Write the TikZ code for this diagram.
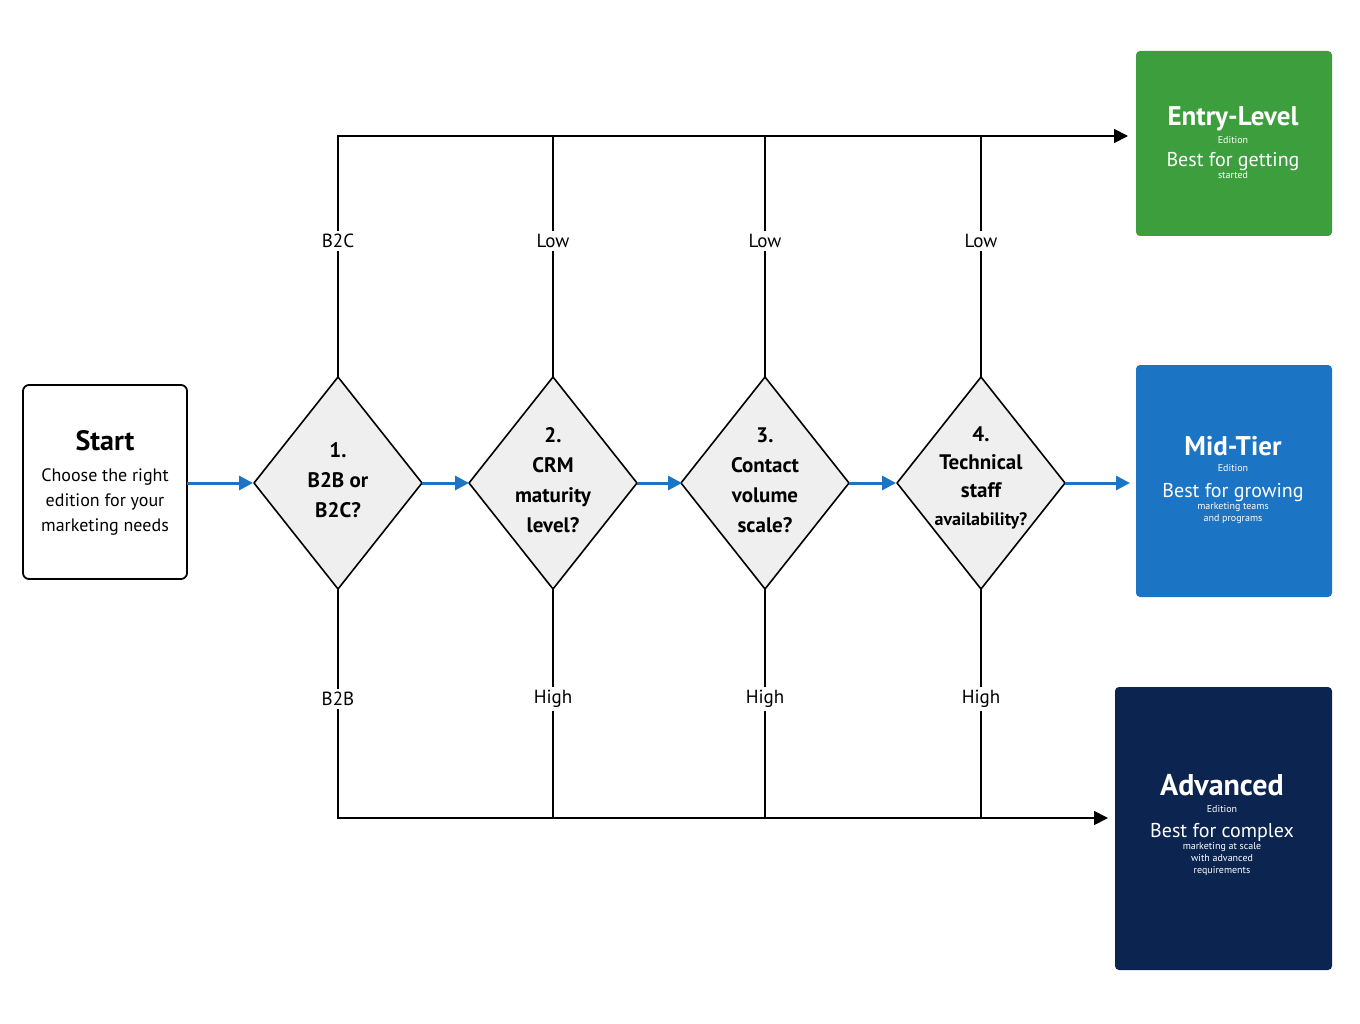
\documentclass[tikz,border=0pt]{standalone}
\usepackage{fontspec}
\setmainfont{PT Sans}
\usetikzlibrary{arrows.meta}
\definecolor{dgreen}{HTML}{3C9E3C}
\definecolor{mblue}{HTML}{1C74C4}
\definecolor{navy}{HTML}{0B2550}
\definecolor{dfill}{HTML}{EFEFEF}
\newcommand{\hd}[1]{\fontsize{#1}{#1}\selectfont\bfseries}
\newcommand{\bd}[1]{\fontsize{20}{#1}\selectfont\mdseries}
\begin{document}
\begin{tikzpicture}[x=1pt,y=-1pt,
  lbl/.style={fill=white,font=\fontsize{19}{22}\selectfont,inner sep=3pt},
  dtext/.style={align=center,font=\fontsize{21}{30}\selectfont\bfseries},
  blk/.style={line width=1.8pt,-{Triangle[length=14pt,width=14pt]}},
  bl/.style={line width=3pt,mblue,-{Triangle[length=14pt,width=14pt]}},
  outbox/.style={draw=none,text=white,align=center}]
\useasboundingbox (0,0) rectangle (1360,1024);
% start
\draw[line width=1.8pt,rounded corners=6pt,fill=white] (23,385) rectangle (187,579);
\node (start) at (105,441) {\fontsize{28}{30}\selectfont\bfseries Start};
\node[align=center,font=\fontsize{18}{25}\selectfont] (startd) at (105,502) {Choose the right\\edition for your\\marketing needs};
% outputs
\fill[dgreen,rounded corners=4pt] (1136,51) rectangle (1332,236);
\node[outbox] (entry) at (1233,143) {\hd{27}Entry-Level\\[4pt]Edition\\[8pt]\bd{28}Best for getting\\started};
\fill[mblue,rounded corners=4pt] (1136,365) rectangle (1332,597);
\node[outbox] (mid) at (1233,480) {\hd{27}Mid-Tier\\[4pt]Edition\\[10pt]\bd{30}Best for growing\\marketing teams\\and programs};
\fill[navy,rounded corners=4pt] (1115,687) rectangle (1332,970);
\node[outbox] (adv) at (1222,825) {\hd{30}Advanced\\[5pt]Edition\\[10pt]\bd{32}Best for complex\\marketing at scale\\with advanced\\requirements};
% lines
\coordinate (topL) at (337,136); \coordinate (topR) at (1128,136);
\coordinate (botL) at (337,818); \coordinate (botR) at (1108,818);
\draw[blk] (topL) -- (topR);
\draw[blk] (botL) -- (botR);
\foreach \x/\t/\b/\n in {338/B2C/B2B/a,553/Low/High/b,765/Low/High/c,981/Low/High/d}{
  \draw[line width=1.8pt] (\x,136) -- (\x,818);
  \node[lbl] (lt\n) at (\x,241) {\t};
  \node[lbl] (lb\n) at (\x,699) {\b};
  \draw[line width=1.6pt,fill=dfill,line join=round] (\x,377) -- (\x+84,483) -- (\x,589) -- (\x-84,483) -- cycle;
}
\node[dtext] (d1) at (338,480) {1.\\B2B or\\B2C?};
\node[dtext] (d2) at (553,480) {2.\\CRM\\maturity\\level?};
\node[dtext] (d3) at (765,480) {3.\\Contact\\volume\\scale?};
\node[align=center,font=\fontsize{21}{28}\selectfont\bfseries] (d4) at (981,478) {4.\\Technical\\staff\\\fontsize{18}{26}\selectfont availability?};
\coordinate (s1) at (187,483); \coordinate (e1) at (253,483);
\coordinate (s2) at (422,483); \coordinate (e2) at (469,483);
\coordinate (s3) at (637,483); \coordinate (e3) at (682,483);
\coordinate (s4) at (849,483); \coordinate (e4) at (896,483);
\coordinate (s5) at (1065,483); \coordinate (e5) at (1130,483);
\foreach \i in {1,...,5}{\draw[bl] (s\i) -- (e\i);}
\end{tikzpicture}
\end{document}
